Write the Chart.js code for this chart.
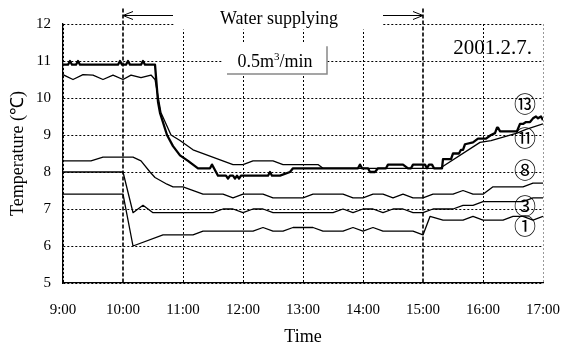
<!DOCTYPE html>
<html><head><meta charset="utf-8">
<script src="https://cdn.jsdelivr.net/npm/chart.js@4.4.1/dist/chart.umd.min.js"></script>
<style>html,body{margin:0;padding:0;background:#fff;}#wrap{width:561px;height:347px;}</style>
</head><body><div id="wrap"><canvas id="c" width="561" height="347"></canvas></div>
<script>
// ---- data ----
const xTickLabels = ['9:00','10:00','11:00','12:00','13:00','14:00','15:00','16:00','17:00'];
const yTickValues = [5,6,7,8,9,10,11,12];
const seriesNames = ['⑬','⑪','⑧','③','①'];
const time13 = ['9:00','9:05','9:07','9:09','9:13','9:15','9:17','9:55','9:57','9:59','10:03','10:05','10:07','10:18','10:20','10:22','10:32','10:35','10:37','10:44','10:50','10:57','11:05','11:15','11:27','11:29','11:31','11:35','11:43','11:45','11:47','11:50','11:52','11:54','11:56','11:58','12:03','12:25','12:27','12:29','12:37','12:47','12:50','13:55','13:57','13:59','14:05','14:07','14:12','14:15','14:23','14:25','14:40','14:45','14:48','14:50','15:02','15:04','15:06','15:09','15:11','15:19','15:20','15:28','15:30','15:36','15:38','15:40','15:42','15:50','15:55','16:03','16:08','16:12','16:14','16:15','16:17','16:34','16:37','16:40','16:43','16:47','16:50','16:53','16:55','16:58','17:00'];
const temp13 = [10.9,10.9,11.0,10.9,10.9,11.0,10.9,10.9,11.0,10.9,10.9,11.0,10.9,10.9,11.0,10.9,10.9,9.9,9.6,9.0,8.7,8.45,8.3,8.1,8.1,8.2,8.1,7.9,7.9,7.82,7.9,7.9,7.82,7.9,7.82,7.9,7.9,7.9,8.0,7.9,7.9,8.0,8.1,8.1,8.2,8.1,8.1,8.0,8.0,8.1,8.1,8.2,8.2,8.1,8.1,8.2,8.2,8.1,8.2,8.2,8.1,8.1,8.35,8.35,8.5,8.5,8.6,8.6,8.75,8.8,8.9,8.9,9.0,9.05,9.2,9.2,9.1,9.1,9.3,9.3,9.35,9.35,9.45,9.5,9.45,9.5,9.4];
const time11 = ['9:00','9:10','9:20','9:30','9:40','9:50','10:00','10:08','10:18','10:28','10:32','10:34','10:38','10:48','10:57','11:10','11:50','12:00','12:10','12:30','12:40','13:15','13:20','15:17','15:57','16:08','16:34','16:43','17:00'];
const temp11 = [10.63,10.5,10.63,10.62,10.5,10.62,10.5,10.62,10.55,10.62,10.5,10.2,9.6,9.0,8.85,8.6,8.2,8.2,8.3,8.3,8.2,8.2,8.1,8.1,8.8,8.85,9.05,9.15,9.3];
const time8 = ['9:00','9:28','9:40','10:10','10:18','10:27','10:32','10:44','10:50','11:00','11:20','11:40','11:50','12:00','12:20','12:30','13:00','13:10','13:40','13:50','14:00','14:10','14:20','14:30','14:40','14:50','15:00','15:10','15:30','15:40','15:50','16:00','16:10','16:40','16:50','17:00'];
const temp8 = [8.3,8.3,8.4,8.4,8.3,8.0,7.85,7.67,7.6,7.6,7.4,7.4,7.3,7.4,7.4,7.3,7.3,7.4,7.4,7.3,7.3,7.4,7.4,7.3,7.4,7.3,7.3,7.4,7.4,7.5,7.4,7.4,7.6,7.6,7.7,7.7];
const time3 = ['9:00','10:00','10:10','10:20','10:30','11:30','11:40','11:50','12:00','12:10','12:20','12:30','13:30','13:40','13:50','14:00','14:10','14:20','14:30','14:40','14:50','15:00','15:10','15:30','15:40','15:50','16:00','16:40','16:50','17:00'];
const temp3 = [8.0,8.0,6.9,7.1,6.9,6.9,7.0,7.0,6.9,7.0,7.0,6.9,6.9,7.0,6.9,7.0,7.0,6.9,7.0,7.0,6.9,6.9,7.0,7.0,7.1,7.1,7.2,7.2,7.3,7.3];
const time1 = ['9:00','10:00','10:10','10:40','11:10','11:20','12:10','12:20','12:30','12:40','12:50','13:10','13:20','13:40','13:50','14:00','14:10','14:20','14:50','15:00','15:07','15:20','15:40','15:50','16:00','16:20','16:30','16:40','16:50','17:00'];
const temp1 = [7.4,7.4,6.0,6.3,6.3,6.4,6.4,6.5,6.4,6.4,6.5,6.5,6.4,6.4,6.5,6.4,6.5,6.4,6.4,6.3,6.8,6.7,6.7,6.8,6.7,6.7,6.8,6.8,6.7,6.8];
const supplyStart = '10:00', supplyEnd = '15:00';
const dateText = '2001.2.7.';
const titleText = 'Water supplying';

const toMin = s => { const [h, m] = s.split(':').map(Number); return h * 60 + m; };
const pts = (t, v) => t.map((s, i) => ({ x: toMin(s), y: v[i] }));
const serif = '"Liberation Serif", "Times New Roman", serif';

const ds = (label, t, v, w) => ({ label, data: pts(t, v), borderColor: '#000', borderWidth: w,
  pointRadius: 0, tension: 0, fill: false, borderJoinStyle: 'round' });

const overlay = {
  id: 'overlay',
  beforeDatasetsDraw(chart) {
    const { ctx, chartArea: a, scales: { x, y } } = chart;
    ctx.save();
    ctx.strokeStyle = '#000'; ctx.lineWidth = 1.6; ctx.setLineDash([4, 2]);
    [supplyStart, supplyEnd].forEach(t => {
      const px = Math.round(x.getPixelForValue(toMin(t)));
      ctx.beginPath(); ctx.moveTo(px, y.getPixelForValue(12.42)); ctx.lineTo(px, a.bottom); ctx.stroke();
    });
    ctx.restore();
  },
  afterDatasetsDraw(chart) {
    const { ctx, scales: { x, y } } = chart;
    const X = t => x.getPixelForValue(toMin(t));
    const Y = v => y.getPixelForValue(v);
    ctx.save();
    ctx.fillStyle = '#fff';
    ctx.fillRect(X('10:51'), 0, X('14:19') - X('10:51'), Y(11.85));
    ctx.strokeStyle = '#000'; ctx.lineWidth = 1; ctx.setLineDash([]);
    const ay = Math.round(Y(12.25)) + 0.5;
    const arrow = (from, to) => {
      const x1 = X(from), x2 = X(to); const dir = Math.sign(x2 - x1);
      ctx.beginPath(); ctx.moveTo(x1, ay); ctx.lineTo(x2, ay);
      ctx.moveTo(x2 - dir * 10, ay - 4); ctx.lineTo(x2, ay); ctx.lineTo(x2 - dir * 10, ay + 4);
      ctx.stroke();
    };
    arrow('10:50', supplyStart);
    arrow('14:20', supplyEnd);
    ctx.fillStyle = '#000';
    ctx.font = '18px ' + serif; ctx.textAlign = 'center'; ctx.textBaseline = 'alphabetic';
    ctx.fillText(titleText, X('12:36'), Y(12.0));
    const bx1 = X('11:39'), bx2 = X('13:24'), by1 = Y(11.48), by2 = Y(10.65);
    ctx.fillStyle = '#fff'; ctx.fillRect(bx1, by1, bx2 - bx1, by2 - by1);
    ctx.strokeStyle = '#888'; ctx.lineWidth = 1.5;
    ctx.beginPath(); ctx.moveTo(bx1 + 5, by2); ctx.lineTo(bx2, by2); ctx.lineTo(bx2, by1 + 3); ctx.stroke();
    ctx.fillStyle = '#000'; ctx.textAlign = 'left';
    const base = Y(10.84);
    const p1 = '0.5m', p2 = '3', p3 = '/min';
    ctx.font = '18px ' + serif; const w1 = ctx.measureText(p1).width, w3 = ctx.measureText(p3).width;
    ctx.font = '11px ' + serif; const w2 = ctx.measureText(p2).width;
    let sx = X('12:32') - (w1 + w2 + w3) / 2;
    ctx.font = '18px ' + serif; ctx.fillText(p1, sx, base); sx += w1;
    ctx.font = '11px ' + serif; ctx.fillText(p2, sx, base - 7); sx += w2;
    ctx.font = '18px ' + serif; ctx.fillText(p3, sx, base);
    ctx.font = '21px ' + serif; ctx.textAlign = 'right';
    ctx.fillText(dateText, X('16:49'), Y(11.2));
    ctx.font = '22px "Noto Sans CJK JP", "DejaVu Sans", serif'; ctx.textAlign = 'center'; ctx.textBaseline = 'middle';
    const labelY = [9.85, 8.93, 8.07, 7.1, 6.54];
    seriesNames.forEach((n, i) => ctx.fillText(n, X('16:42'), Y(labelY[i])));
    ctx.restore();
  }
};

new Chart(document.getElementById('c'), {
  type: 'line',
  data: { datasets: [
    ds('⑬', time13, temp13, 2.3),
    ds('⑪', time11, temp11, 1.3),
    ds('⑧', time8, temp8, 1.3),
    ds('③', time3, temp3, 1.3),
    ds('①', time1, temp1, 1.3)
  ] },
  options: {
    responsive: false, animation: false, devicePixelRatio: 1,
    layout: { padding: { top: 24, right: 18, left: 0, bottom: 0 } },
    plugins: { legend: { display: false }, tooltip: { enabled: false } },
    scales: {
      x: {
        type: 'linear', min: toMin(xTickLabels[0]), max: toMin(xTickLabels[xTickLabels.length - 1]),
        afterFit: s => { s.height = 64; s.paddingLeft = 0; s.paddingRight = 0; },
        afterBuildTicks: s => { s.ticks = xTickLabels.map(l => ({ value: toMin(l) })); },
        ticks: { callback: (v) => xTickLabels.find(l => toMin(l) === v) || '', color: '#000', padding: 18,
          maxRotation: 0, autoSkip: false, font: { family: serif, size: 15 } },
        grid: { drawTicks: false, lineWidth: 1,
          color: c => { const v = c.tick && c.tick.value; if (v === toMin(supplyStart) || v === toMin(supplyEnd)) return 'rgba(0,0,0,0)'; if (v === toMin('17:00')) return '#999'; return '#000'; } },
        border: { display: true, color: '#000', width: 1.3, dash: [2, 2] },
        title: { display: true, text: 'Time', color: '#000', font: { family: serif, size: 18 }, padding: { top: 0, bottom: -1 } }
      },
      y: {
        min: 5, max: 12,
        afterFit: s => { s.width = 63; s.paddingTop = 0; s.paddingBottom = 0; },
        afterBuildTicks: s => { s.ticks = yTickValues.map(v => ({ value: v })); },
        ticks: { color: '#000', padding: 12, font: { family: serif, size: 15 } },
        grid: { drawTicks: false, lineWidth: 1, color: '#000' },
        border: { display: true, color: '#000', width: 1.3, dash: [2, 2] },
        title: { display: true, text: 'Temperature (℃)', color: '#000', font: { family: serif, size: 18 }, padding: { top: 7, bottom: 0 } }
      }
    }
  },
  plugins: [overlay]
});
</script></body></html>
